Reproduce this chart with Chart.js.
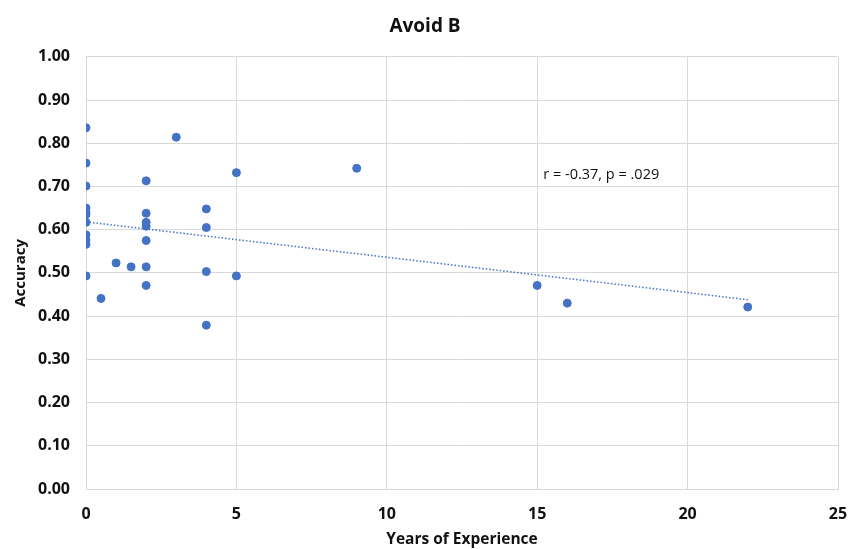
<!DOCTYPE html>
<html>
<head>
<meta charset="utf-8">
<style>
  html, body { margin: 0; padding: 0; background: #fff; }
  #wrap { width: 848px; height: 549px; }
</style>
<script src="https://cdn.jsdelivr.net/npm/chart.js@4/dist/chart.umd.min.js"></script>
</head>
<body>
<div id="wrap"><canvas id="chart"></canvas></div>
<script>
// ---- Datos ----
var years = [0, 0, 0, 0, 0, 0, 0, 0, 0, 0, 0,
  0.5, 1, 1.5,
  2, 2, 2, 2, 2, 2, 2,
  3,
  4, 4, 4, 4,
  5, 5,
  9, 15, 16, 22];
var accuracy = [0.836, 0.754, 0.701, 0.650, 0.641, 0.617, 0.588, 0.576, 0.566, 0.493, 0.635,
  0.441, 0.523, 0.514,
  0.713, 0.638, 0.617, 0.608, 0.575, 0.514, 0.471,
  0.814,
  0.648, 0.605, 0.503, 0.379,
  0.732, 0.493,
  0.742, 0.471, 0.430, 0.421];

// línea de tendencia (extremos leídos)
var trendX = [0, 22];
var trendY = [0.618, 0.438];

var yTicks = [0, 0.1, 0.2, 0.3, 0.4, 0.5, 0.6, 0.7, 0.8, 0.9, 1.0];
var xTicks = [0, 5, 10, 15, 20, 25];
var statsLabel = 'r = -0.37, p = .029';

var azul = '#4472c4';
var gris = '#d9d9d9';
var texto = '#111111';
var fuente = "'Open Sans', 'Noto Sans', sans-serif";

function toPoints(xs, ys) {
  return xs.map(function (x, i) { return { x: x, y: ys[i] }; });
}

// texto de la correlación
var statsPlugin = {
  id: 'statsText',
  afterDatasetsDraw: function (chart) {
    var ctx = chart.ctx;
    var px = chart.scales.x.getPixelForValue(15.2);
    var py = chart.scales.y.getPixelForValue(0.727);
    ctx.save();
    ctx.font = "14.5px " + fuente;
    ctx.fillStyle = texto;
    ctx.textAlign = 'left';
    ctx.textBaseline = 'middle';
    ctx.fillText(statsLabel, px, py);
    ctx.restore();
  }
};

new Chart(document.getElementById('chart'), {
  type: 'scatter',
  data: {
    datasets: [{
      label: 'Avoid B',
      data: toPoints(years, accuracy),
      backgroundColor: azul,
      borderColor: azul,
      pointRadius: 4,
      pointHoverRadius: 4,
      order: 1
    }, {
      label: 'Tendencia',
      data: toPoints(trendX, trendY),
      showLine: true,
      borderColor: azul,
      borderWidth: 1.5,
      borderDash: [1.5, 2],
      pointRadius: 0,
      fill: false,
      order: 2
    }]
  },
  options: {
    responsive: true,
    maintainAspectRatio: false,
    animation: false,
    layout: { padding: { left: 12, right: 10, top: 0, bottom: 0 } },
    plugins: {
      legend: { display: false },
      tooltip: { enabled: false },
      title: {
        display: true,
        text: 'Avoid B',
        color: texto,
        font: { family: fuente, size: 19, weight: 'bold', lineHeight: 1.2 },
        padding: { top: 15, bottom: 19 }
      }
    },
    scales: {
      x: {
        type: 'linear',
        min: 0,
        max: 25,
        afterFit: function (s) { s.height = 60; s.paddingLeft = 0; s.paddingRight = 0; },
        afterBuildTicks: function (s) { s.ticks = xTicks.map(function (v) { return { value: v }; }); },
        grid: { color: gris, drawTicks: false },
        border: { color: gris },
        ticks: {
          padding: 16,
          color: texto,
          font: { family: fuente, size: 16, weight: 'bold' }
        },
        title: {
          display: true,
          text: 'Years of Experience',
          color: texto,
          font: { family: fuente, size: 15.5, weight: 'bold' },
          padding: { top: 4, bottom: 0 }
        }
      },
      y: {
        min: 0,
        max: 1,
        afterFit: function (s) { s.width = 74; },
        afterBuildTicks: function (s) { s.ticks = yTicks.map(function (v) { return { value: v }; }); },
        grid: { color: gris, drawTicks: false },
        border: { color: gris },
        ticks: {
          padding: 16,
          color: texto,
          font: { family: fuente, size: 16, weight: 'bold' },
          callback: function (v) { return Number(v).toFixed(2); }
        },
        title: {
          display: true,
          text: 'Accuracy',
          color: texto,
          font: { family: fuente, size: 15, weight: 'bold' },
          padding: { top: 0, bottom: 0 }
        }
      }
    }
  },
  plugins: [statsPlugin]
});
</script>
</body>
</html>
